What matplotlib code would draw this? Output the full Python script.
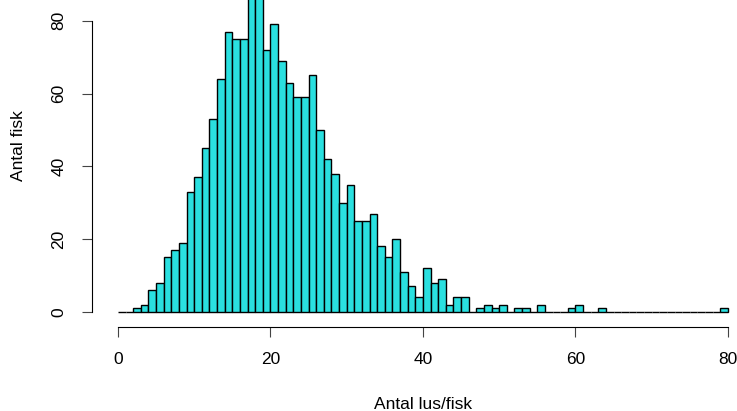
"""
Histogram of lice per fish, redrawn in the R base-graphics look.
"""
import matplotlib
matplotlib.use("Agg")
import matplotlib.pyplot as plt
import numpy as np

# bin counts, one bin per louse count (0-1, 1-2, ..., 79-80)
breaks = list(range(0, 81))
counts = [0, 0, 1, 2, 6, 8, 15, 17, 19, 33,
		  37, 45, 53, 64, 77, 75, 75, 91, 87, 72,
		  79, 69, 63, 59, 59, 65, 50, 42, 38, 30,
		  35, 25, 25, 27, 18, 15, 20, 11, 7, 4,
		  12, 8, 9, 2, 4, 4, 0, 1, 2, 1,
		  2, 0, 1, 1, 0, 2, 0, 0, 0, 1,
		  2, 0, 0, 1, 0, 0, 0, 0, 0, 0,
		  0, 0, 0, 0, 0, 0, 0, 0, 0, 1]
xticks = [0, 20, 40, 60, 80]
yticks = [0, 20, 40, 60, 80]
xlabel = "Antal lus/fisk"
ylabel = "Antal fisk"

W, H = 737, 411
plt.rcParams['font.family'] = ['Liberation Sans', 'DejaVu Sans']

fig = plt.figure(figsize=(W / 100, H / 100), dpi=100)

# R pads the ranges by 4% on each side
ymax = max(counts)
xlim = (breaks[0] - 0.04 * (breaks[-1] - breaks[0]), breaks[-1] + 0.04 * (breaks[-1] - breaks[0]))
ylim = (-0.04 * ymax, 1.04 * ymax)

# plot region in pixels (top and right fall outside the saved picture)
left, right = 93.6, 752.4
top, bottom = -32.5, 325.2
ax = fig.add_axes([left / W, (H - bottom) / H, (right - left) / W, (bottom - top) / H])

ax.bar(breaks[:-1], counts, width=1, align='edge', color='#2ae0e0',
	   edgecolor='black', linewidth=1.0)

ax.set_xlim(*xlim)
ax.set_ylim(*ylim)

for side in ['top', 'right']:
	ax.spines[side].set_visible(False)
for side in ['left', 'bottom']:
	ax.spines[side].set_linewidth(0.8)
	ax.spines[side].set_position(('outward', 1.5))
ax.spines['left'].set_bounds(yticks[0], yticks[-1])
ax.spines['bottom'].set_bounds(xticks[0], xticks[-1])

ax.set_xticks(xticks)
ax.set_yticks(yticks)
ax.tick_params(axis='both', direction='out', length=7, width=0.8,
			   color='#444444', labelsize=12.5, pad=11)
for lab in ax.get_yticklabels():
	lab.set_rotation(90)
	lab.set_va('center')

fig.text(423 / W, (H - 409) / H, xlabel, ha='center', va='baseline', fontsize=12.5)
fig.text(26 / W, (H - 146) / H, ylabel, ha='right', va='center',
		 rotation=90, fontsize=12.5)

fig.savefig("out.png", dpi=100)
